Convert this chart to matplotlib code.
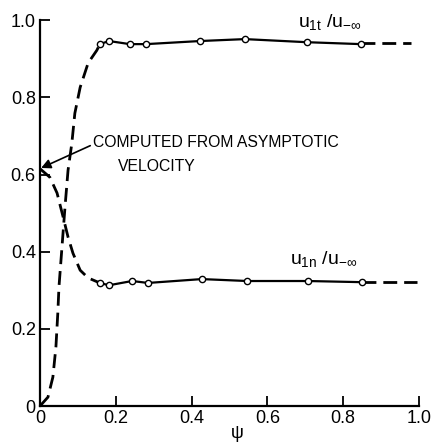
import matplotlib.pyplot as plt, numpy as np

plt.rcParams['font.family'] = ['Liberation Sans', 'DejaVu Sans']
plt.rcParams['mathtext.fontset'] = 'custom'
plt.rcParams['mathtext.rm'] = 'Liberation Sans'
plt.rcParams['mathtext.it'] = 'Liberation Sans'

# u1t / u-inf : dashed rise, measured circles, dashed tail
rise_psi = [0.0, 0.021, 0.034, 0.042, 0.047, 0.050, 0.058, 0.066, 0.074, 0.084, 0.092, 0.106, 0.127, 0.150, 0.158]
rise_u = [0.0, 0.023, 0.075, 0.153, 0.241, 0.308, 0.412, 0.516, 0.611, 0.681, 0.759, 0.826, 0.889, 0.922, 0.938]
ut_psi = [0.158, 0.182, 0.237, 0.280, 0.422, 0.541, 0.704, 0.847]
ut_u = [0.938, 0.946, 0.938, 0.938, 0.946, 0.951, 0.943, 0.938]
ut_tail_psi = [0.847, 0.98]
ut_tail_u = [0.940, 0.940]

# u1n / u-inf : dashed fall, measured circles, dashed tail
fall_psi = [0.0, 0.026, 0.045, 0.061, 0.074, 0.087, 0.106, 0.127, 0.158]
fall_u = [0.615, 0.593, 0.552, 0.490, 0.438, 0.396, 0.352, 0.332, 0.319]
un_psi = [0.158, 0.182, 0.243, 0.285, 0.427, 0.547, 0.707, 0.850]
un_u = [0.319, 0.313, 0.324, 0.319, 0.329, 0.324, 0.324, 0.321]
un_tail_psi = [0.850, 0.995]
un_tail_u = [0.321, 0.321]

ticks = [0, 0.2, 0.4, 0.6, 0.8, 1.0]
tick_labels = ["0", "0.2", "0.4", "0.6", "0.8", "1.0"]

fig = plt.figure(figsize=(4.32, 4.45), dpi=100)
ax = fig.add_axes([0.0926, 0.0876, 0.877, 0.867])
ax.set_xlim(0, 1.0)
ax.set_ylim(0, 1.0)

dash = (0, (5, 2.5))
ax.plot(rise_psi, rise_u, color="black", lw=2.0, linestyle=dash)
ax.plot(fall_psi, fall_u, color="black", lw=2.0, linestyle=dash)
ax.plot(ut_tail_psi, ut_tail_u, color="black", lw=2.0, linestyle=dash)
ax.plot(un_tail_psi, un_tail_u, color="black", lw=2.0, linestyle=dash)
ax.plot(ut_psi, ut_u, "-o", color="black", lw=1.6, ms=4.5, mfc="white", mew=1.0)
ax.plot(un_psi, un_u, "-o", color="black", lw=1.6, ms=4.5, mfc="white", mew=1.0)

for s in ["top", "right"]:
    ax.spines[s].set_visible(False)
for s in ["left", "bottom"]:
    ax.spines[s].set_linewidth(1.6)

ax.set_xticks(ticks)
ax.set_xticklabels(tick_labels)
ax.set_yticks(ticks)
ax.set_yticklabels(tick_labels)
ax.tick_params(direction="in", length=7, width=1.3, labelsize=13, pad=3)

ax.text(0.52, -0.072, "ψ", fontsize=13, ha="center", va="center", clip_on=False)
ax.text(0.680, 0.995, r"$u_{1t}\ /u_{-\infty}$", fontsize=14, va="center")
ax.text(0.660, 0.382, r"$u_{1n}\ /u_{-\infty}$", fontsize=14, va="center")

ax.annotate("COMPUTED FROM ASYMPTOTIC", xy=(0.003, 0.617), xytext=(0.140, 0.682),
            fontsize=11.3, va="center", ha="left",
            arrowprops=dict(arrowstyle="-|>", color="black", lw=1.2, mutation_scale=14,
                            shrinkA=0, shrinkB=0, relpos=(0, 0.4)))
ax.text(0.207, 0.622, "VELOCITY", fontsize=11.3, va="center", ha="left")

plt.savefig("out.png", dpi=100)
